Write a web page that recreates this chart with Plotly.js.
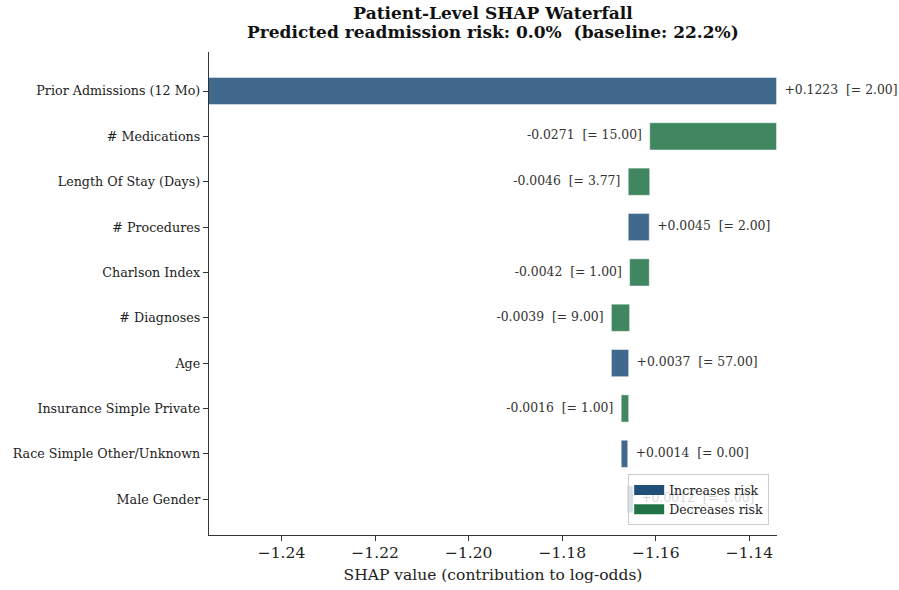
<!DOCTYPE html>
<html>
<head>
<meta charset="utf-8">
<script src="https://cdn.plot.ly/plotly-3.0.1.min.js"></script>
<style>html,body{margin:0;padding:0;background:#fff;}</style>
</head>
<body>
<div id="chart" style="width:899px;height:590px;"></div>
<script>
const features = [
  "Prior Admissions (12 Mo)",
  "# Medications",
  "Length Of Stay (Days)",
  "# Procedures",
  "Charlson Index",
  "# Diagnoses",
  "Age",
  "Insurance Simple Private",
  "Race Simple Other/Unknown",
  "Male Gender"
];
const shapValues = [0.1223, -0.0271, -0.0046, 0.0045, -0.0042, -0.0039, 0.0037, -0.0016, 0.0014, 0.0012];
const featureValues = [2.00, 15.00, 3.77, 2.00, 1.00, 9.00, 57.00, 1.00, 0.00, 1.00];
const baseValue = -1.2565;
const xTickVals = [-1.24, -1.22, -1.20, -1.18, -1.16, -1.14];
const legendNames = ["Increases risk", "Decreases risk"];
const titleLine1 = "Patient-Level SHAP Waterfall";
const titleLine2 = "Predicted readmission risk: 0.0%\u00a0\u00a0(baseline: 22.2%)";

const FONT = "DejaVu Serif, Liberation Serif, serif";
const barBlue = "#41688d", barGreen = "#408761";
const legBlue = "#1f4e79", legGreen = "#217346";
const NB = "\u00a0";

// cumulative waterfall
const starts = [], ends = [];
let cur = baseValue;
shapValues.forEach(v => { starts.push(cur); cur += v; ends.push(cur); });

const inc = {y: [], x: [], base: []}, dec = {y: [], x: [], base: []};
const posT = {x: [], y: [], text: []}, negT = {x: [], y: [], text: []};
features.forEach((f, i) => {
  const v = shapValues[i];
  const fv = featureValues[i].toFixed(2);
  if (v >= 0) {
    inc.y.push(f); inc.x.push(v); inc.base.push(starts[i]);
    posT.x.push(ends[i]); posT.y.push(f);
    posT.text.push(NB + NB + "+" + v.toFixed(4) + NB + NB + "[= " + fv + "]");
  } else {
    dec.y.push(f); dec.x.push(v); dec.base.push(starts[i]);
    negT.x.push(ends[i]); negT.y.push(f);
    negT.text.push(v.toFixed(4) + NB + NB + "[= " + fv + "]" + NB + NB);
  }
});

const traces = [
  {type: "bar", orientation: "h", y: inc.y, x: inc.x, base: inc.base, width: 0.6,
   marker: {color: barBlue, line: {color: "rgba(255,255,255,0.6)", width: 0.8}}, showlegend: false},
  {type: "bar", orientation: "h", y: dec.y, x: dec.x, base: dec.base, width: 0.6,
   marker: {color: barGreen, line: {color: "rgba(255,255,255,0.6)", width: 0.8}}, showlegend: false},
  {type: "scatter", mode: "text", x: posT.x, y: posT.y, text: posT.text, textposition: "middle right",
   textfont: {family: FONT, size: 12.4, color: "#333"}, cliponaxis: false, showlegend: false},
  {type: "scatter", mode: "text", x: negT.x, y: negT.y, text: negT.text, textposition: "middle left",
   textfont: {family: FONT, size: 12.4, color: "#333"}, cliponaxis: false, showlegend: false},
  {type: "scatter", mode: "lines", y: [null], x: [null], name: legendNames[0], line: {color: legBlue, width: 10}},
  {type: "scatter", mode: "lines", y: [null], x: [null], name: legendNames[1], line: {color: legGreen, width: 10}}
];

const layout = {
  width: 899, height: 590,
  margin: {l: 209, r: 122, t: 52, b: 55},
  paper_bgcolor: "#fff", plot_bgcolor: "#fff",
  barmode: "overlay",
  hovermode: false,
  font: {family: FONT, color: "#222"},
  title: {
    text: "<b>" + titleLine1 + "</b>",
    font: {family: FONT, size: 17, color: "#111"},
    x: 0.5, xanchor: "center", xref: "paper",
    y: 0.978, yanchor: "middle", yref: "container"
  },
  annotations: [{
    text: "<b>" + titleLine2 + "</b>", showarrow: false,
    xref: "paper", yref: "paper", x: 0.5, xanchor: "center",
    y: 1.0414, yanchor: "middle",
    font: {family: FONT, size: 17, color: "#111"}
  }],
  xaxis: {
    range: [-1.2555, -1.1341], autorange: false,
    tickvals: xTickVals, ticktext: xTickVals.map(v => "\u2212" + Math.abs(v).toFixed(2)),
    ticks: "outside", ticklen: 5, tickcolor: "#333", tickwidth: 1,
    ticklabelstandoff: -2,
    showline: true, linecolor: "#333", linewidth: 1.2,
    showgrid: false, zeroline: false,
    tickfont: {family: FONT, size: 15.5, color: "#222"},
    title: {text: "SHAP value (contribution to log-odds)", font: {family: FONT, size: 15.5, color: "#222"}, standoff: 8}
  },
  yaxis: {
    type: "category", categoryorder: "array", categoryarray: features,
    range: [9.79, -0.86], autorange: false,
    ticks: "outside", ticklen: 5, tickcolor: "#333", tickwidth: 1,
    showline: true, linecolor: "#333", linewidth: 1.2,
    showgrid: false, zeroline: false,
    tickfont: {family: FONT, size: 12.7, color: "#222"}
  },
  legend: {
    x: 0.738, xanchor: "left", y: 0.02, yanchor: "bottom",
    bgcolor: "rgba(255,255,255,0.8)", bordercolor: "#cccccc", borderwidth: 1,
    font: {family: FONT, size: 12.5, color: "#222"},
    tracegroupgap: 0, traceorder: "normal", itemwidth: 30
  }
};

Plotly.newPlot("chart", traces, layout, {displayModeBar: false, staticPlot: true});
</script>
</body>
</html>
